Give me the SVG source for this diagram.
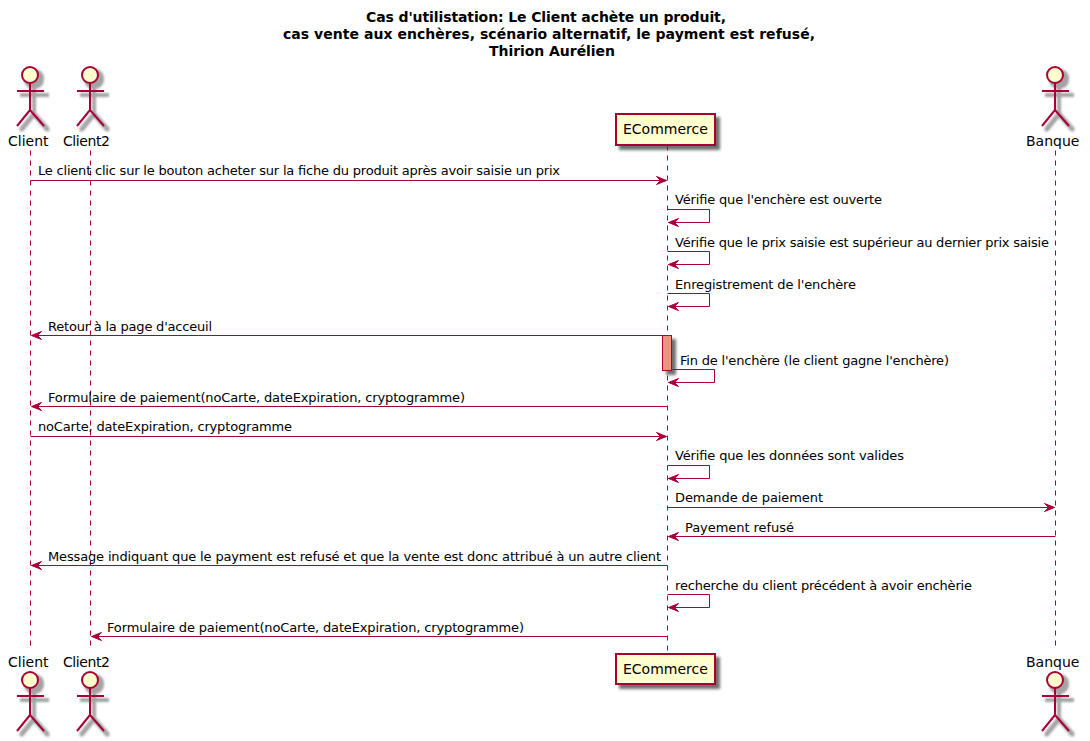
<svg xmlns="http://www.w3.org/2000/svg" width="1090" height="741" viewBox="0 0 1090 741">
<style>
text{font-family:"DejaVu Sans",sans-serif;fill:#000}
.t{font-size:14px;font-weight:bold;text-anchor:middle}
.m{font-size:13px}
.p{font-size:14px}
.l{stroke:#A80036;stroke-width:1;stroke-dasharray:5,5;fill:none}
.c{stroke:#A80036;stroke-width:1;fill:none}
.h{fill:#A80036;stroke:#A80036;stroke-width:1}
.a{fill:none;stroke:#A80036;stroke-width:2}
.f{fill:#FEFECE;stroke:#A80036;stroke-width:2}
.s{filter:url(#sh)}
.sa{filter:url(#sha)}
</style>
<defs>
<filter id="sh" x="-100%" y="-100%" width="300%" height="300%" color-interpolation-filters="sRGB"><feGaussianBlur in="SourceAlpha" stdDeviation="1.5" result="b"/><feColorMatrix in="b" type="matrix" values="0 0 0 0 0.25 0 0 0 0 0.25 0 0 0 0 0.25 0 0 0 0.75 0" result="c"/><feOffset in="c" dx="4" dy="4" result="o"/><feMerge><feMergeNode in="o"/><feMergeNode in="SourceGraphic"/></feMerge></filter>
<filter id="sha" x="-50%" y="-50%" width="200%" height="200%" color-interpolation-filters="sRGB"><feMorphology in="SourceAlpha" operator="dilate" radius="1" result="d"/><feGaussianBlur in="d" stdDeviation="1.2" result="b"/><feColorMatrix in="b" type="matrix" values="0 0 0 0 0.4 0 0 0 0 0.4 0 0 0 0 0.4 0 0 0 0.6 0" result="c"/><feOffset in="c" dx="4" dy="4" result="o"/><feMerge><feMergeNode in="o"/><feMergeNode in="SourceGraphic"/></feMerge></filter>
<g id="actor"><g class="sa"><circle class="f" cx="0" cy="0" r="8"/><path class="a" d="M0 8V35M-13 16H14M0 35L-13 51M0 35L14 51"/></g></g>
<polygon id="hr" class="h" points="0,0 -10,-4 -6,0 -10,4"/>
<polygon id="hl" class="h" points="0,0 10,-4 6,0 10,4"/>
</defs>
<g id="title">
<text class="t" x="546" y="22" textLength="360">Cas d'utilistation: Le Client achète un produit,</text>
<text class="t" x="549" y="39" textLength="532">cas vente aux enchères, scénario alternatif, le payment est refusé,</text>
<text class="t" x="552" y="56" textLength="126">Thirion Aurélien</text>
</g>
<g id="lifelines" transform="translate(.5 .5)">
<path class="l" d="M30 150V650"/>
<path class="l" d="M90 150V650"/>
<path class="l" d="M667 145V654"/>
<path class="l" d="M1055 150V650"/>
</g>
<g id="node-client"><use href="#actor" x="30" y="75"/><text class="p" x="8" y="146">Client</text></g>
<g id="node-client2"><use href="#actor" x="90" y="75"/><text class="p" x="63" y="146" textLength="47">Client2</text></g>
<g id="node-ecommerce"><rect class="f s" x="616" y="114" width="99" height="31"/><text class="p" x="623" y="134">ECommerce</text></g>
<g id="node-banque"><use href="#actor" x="1055" y="75"/><text class="p" x="1026" y="146">Banque</text></g>
<g id="node-client-bottom"><use href="#actor" x="30" y="680"/><text class="p" x="8" y="667">Client</text></g>
<g id="node-client2-bottom"><use href="#actor" x="90" y="680"/><text class="p" x="63" y="667" textLength="47">Client2</text></g>
<g id="node-ecommerce-bottom"><rect class="f s" x="616" y="654" width="99" height="30"/><text class="p" x="623" y="674">ECommerce</text></g>
<g id="node-banque-bottom"><use href="#actor" x="1055" y="680"/><text class="p" x="1026" y="667">Banque</text></g>
<g id="activation"><rect class="s" x="662.5" y="335.5" width="9" height="35" fill="#E9967A" stroke="#A80036"/></g>
<g id="connectors" transform="translate(.5 .5)">
<path class="c" d="M30 180H666"/><use href="#hr" x="666" y="180"/>
<path class="c" d="M667 209H709V222H668"/><use href="#hl" x="668" y="222"/>
<path class="c" d="M667 251H709V264H668"/><use href="#hl" x="668" y="264"/>
<path class="c" d="M667 293H709V306H668"/><use href="#hl" x="668" y="306"/>
<path class="c" d="M667 335H31"/><use href="#hl" x="31" y="335"/>
<path class="c" d="M672 369H714V382H668"/><use href="#hl" x="668" y="382"/>
<path class="c" d="M667 406H31"/><use href="#hl" x="31" y="406"/>
<path class="c" d="M30 436H666"/><use href="#hr" x="666" y="436"/>
<path class="c" d="M667 465H709V478H668"/><use href="#hl" x="668" y="478"/>
<path class="c" d="M667 507H1054"/><use href="#hr" x="1054" y="507"/>
<path class="c" d="M1055 536H668"/><use href="#hl" x="668" y="536"/>
<path class="c" d="M667 565H31"/><use href="#hl" x="31" y="565"/>
<path class="c" d="M667 594H709V607H668"/><use href="#hl" x="668" y="607"/>
<path class="c" d="M667 636H91"/><use href="#hl" x="91" y="636"/>
</g>
<g id="labels">
<text class="m" x="38" y="175" textLength="522">Le client clic sur le bouton acheter sur la fiche du produit après avoir saisie un prix</text>
<text class="m" x="675" y="204" textLength="207">Vérifie que l'enchère est ouverte</text>
<text class="m" x="675" y="247" textLength="374">Vérifie que le prix saisie est supérieur au dernier prix saisie</text>
<text class="m" x="675" y="289" textLength="181">Enregistrement de l'enchère</text>
<text class="m" x="48" y="331" textLength="164">Retour à la page d'acceuil</text>
<text class="m" x="680" y="365" textLength="269">Fin de l'enchère (le client gagne l'enchère)</text>
<text class="m" x="48" y="402" textLength="417">Formulaire de paiement(noCarte, dateExpiration, cryptogramme)</text>
<text class="m" x="38" y="431" textLength="254">noCarte, dateExpiration, cryptogramme</text>
<text class="m" x="675" y="460" textLength="229">Vérifie que les données sont valides</text>
<text class="m" x="675" y="502" textLength="148">Demande de paiement</text>
<text class="m" x="685" y="532" textLength="109">Payement refusé</text>
<text class="m" x="48" y="561" textLength="613">Message indiquant que le payment est refusé et que la vente est donc attribué à un autre client</text>
<text class="m" x="675" y="590" textLength="297">recherche du client précédent à avoir enchèrie</text>
<text class="m" x="107" y="632" textLength="417">Formulaire de paiement(noCarte, dateExpiration, cryptogramme)</text>
</g>
</svg>
